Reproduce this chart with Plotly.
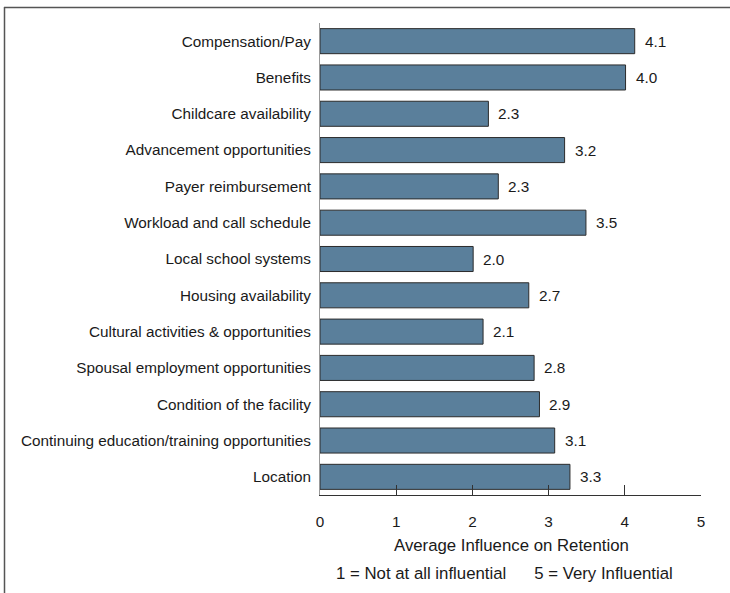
import plotly.graph_objects as go

categories = [
    "Compensation/Pay",
    "Benefits",
    "Childcare availability",
    "Advancement opportunities",
    "Payer reimbursement",
    "Workload and call schedule",
    "Local school systems",
    "Housing availability",
    "Cultural activities & opportunities",
    "Spousal employment opportunities",
    "Condition of the facility",
    "Continuing education/training opportunities",
    "Location",
]
values = [4.13, 4.01, 2.21, 3.21, 2.34, 3.49, 2.01, 2.74, 2.14, 2.81, 2.88, 3.08, 3.28]
value_labels = ["4.1", "4.0", "2.3", "3.2", "2.3", "3.5", "2.0", "2.7", "2.1", "2.8", "2.9", "3.1", "3.3"]
x_ticks = [0, 1, 2, 3, 4, 5]
x_title = "Average Influence on Retention"
scale_note = "1 = Not at all influential      5 = Very Influential"

W, H = 730, 593
L, R, T, B = 320, 29, 23, 98
pw, ph = W - L - R, H - T - B

def px_x(px):
    return (px - L) / pw

def px_y(py):
    return (H - B - py) / ph

FS = 15.3
FT = 16.8

fig = go.Figure()
fig.add_trace(go.Bar(
    y=categories, x=values, orientation="h",
    marker=dict(color="#5a7f9b", line=dict(color="#2b2b2b", width=1)),
    width=0.69, hoverinfo="skip",
))

annotations = []
for c, v, t in zip(categories, values, value_labels):
    annotations.append(dict(x=v, y=c, xref="x", yref="y", text=t, showarrow=False,
                            xanchor="left", yanchor="middle", xshift=8,
                            font=dict(size=FS, color="#1a1a1a")))
annotations.append(dict(x=px_x(511), y=px_y(545), xref="paper", yref="paper", text=x_title,
                        showarrow=False, xanchor="center", yanchor="middle",
                        font=dict(size=FT, color="#1a1a1a")))
annotations.append(dict(x=px_x(504), y=px_y(573), xref="paper", yref="paper", text=scale_note.replace(" ", "&nbsp;"),
                        showarrow=False, xanchor="center", yanchor="middle",
                        font=dict(size=FT, color="#1a1a1a")))

shapes = [
    dict(type="line", xref="paper", yref="paper", x0=px_x(4), x1=px_x(731), y0=px_y(7.5), y1=px_y(7.5),
         line=dict(color="#555555", width=1.5)),
    dict(type="line", xref="paper", yref="paper", x0=px_x(4.5), x1=px_x(4.5), y0=px_y(7), y1=px_y(594),
         line=dict(color="#555555", width=1.5)),
]

fig.update_layout(
    width=W, height=H,
    margin=dict(l=L, r=R, t=T, b=B),
    paper_bgcolor="white", plot_bgcolor="white",
    font=dict(family="Liberation Sans, Arial, sans-serif", size=FS, color="#1a1a1a"),
    showlegend=False,
    annotations=annotations,
    shapes=shapes,
    bargap=0.31,
)
fig.update_xaxes(
    range=[0, 5], tickvals=x_ticks, ticktext=[str(t) for t in x_ticks],
    ticks="inside", ticklen=10, tickcolor="#333333", tickwidth=1,
    showline=True, linecolor="#333333", linewidth=1,
    showgrid=False, zeroline=False, ticklabelstandoff=13,
    tickfont=dict(size=FS),
)
fig.update_yaxes(
    categoryorder="array", categoryarray=categories, autorange="reversed",
    showline=True, linecolor="#999999", linewidth=1,
    showgrid=False, zeroline=False, ticks="", ticklabelstandoff=5,
    tickfont=dict(size=FS),
)

fig.write_html("out.html", config={"displayModeBar": False},
               post_script="document.body.style.margin='0';document.body.style.overflow='hidden';")
